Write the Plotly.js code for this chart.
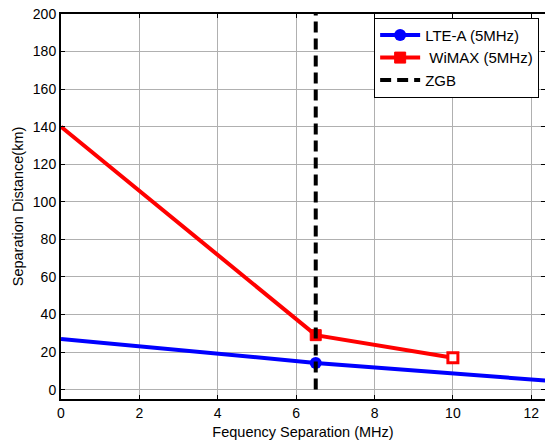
<!DOCTYPE html>
<html>
<head>
<meta charset="utf-8">
<script src="https://cdn.plot.ly/plotly-3.0.1.min.js"></script>
<style>html,body{margin:0;padding:0;background:#fff;}#chart{width:545px;height:441px;}</style>
</head>
<body>
<div id="chart"></div>
<script>
// Data
const lteX = [0, 6.5, 12.5];
const lteY = [27, 14.2, 4.6];
const lteMarkX = [6.5];
const lteMarkY = [14.2];

const wimaxX = [0, 6.5, 10];
const wimaxY = [140, 29, 17];
const wimaxFilledX = [6.5];
const wimaxFilledY = [29];
const wimaxOpenX = [10];
const wimaxOpenY = [17];

const zgbX = [6.5, 6.5];
const zgbY = [0, 200];

const xTicks = [0, 2, 4, 6, 8, 10, 12];
const yTicks = [0, 20, 40, 60, 80, 100, 120, 140, 160, 180, 200];

const FONT = "Liberation Sans, Arial, sans-serif";

const traces = [
  {x: lteX, y: lteY, mode: 'lines', line: {color: '#0000ff', width: 4}, showlegend: false, hoverinfo: 'skip'},
  {x: wimaxX, y: wimaxY, mode: 'lines', line: {color: '#ff0000', width: 4}, showlegend: false, hoverinfo: 'skip'},
  {x: wimaxOpenX, y: wimaxOpenY, mode: 'markers', showlegend: false,
   marker: {symbol: 'square', size: 10, color: '#ffffff', line: {color: '#ff0000', width: 3}}},
  {x: lteMarkX, y: lteMarkY, mode: 'lines+markers', name: 'LTE-A (5MHz)',
   line: {color: '#0000ff', width: 4},
   marker: {symbol: 'circle', size: 12, color: '#0000ff'}},
  {x: wimaxFilledX, y: wimaxFilledY, mode: 'lines+markers', name: ' WiMAX (5MHz)',
   line: {color: '#ff0000', width: 4},
   marker: {symbol: 'square', size: 11, color: '#ff0000', line: {color: '#ff0000', width: 1}}},
  {x: zgbX, y: zgbY, mode: 'lines', name: 'ZGB',
   line: {color: '#000000', width: 4, dash: '11px,6px'}}
];

const layout = {
  width: 545, height: 441,
  margin: {l: 61, r: 0, t: 14, b: 42},
  paper_bgcolor: '#ffffff', plot_bgcolor: '#ffffff',
  font: {family: FONT, size: 14, color: '#000000'},
  showlegend: true,
  legend: {
    x: 0.647, y: 0.99, xanchor: 'left', yanchor: 'top',
    bgcolor: '#ffffff', bordercolor: '#000000', borderwidth: 1,
    font: {family: FONT, size: 15, color: '#000000'},
    traceorder: 'normal', itemwidth: 40
  },
  xaxis: {
    range: [0, 12.35], tickvals: xTicks, ticktext: xTicks.map(String),
    ticks: 'inside', ticklen: 4, tickcolor: '#000', tickwidth: 1,
    showline: true, linecolor: '#000', linewidth: 2, mirror: 'ticks',
    showgrid: true, gridcolor: '#b0b0b0', gridwidth: 1, zeroline: false,
    tickfont: {family: FONT, size: 14, color: '#000'},
    title: {text: 'Fequency Separation (MHz)', font: {family: FONT, size: 14.5, color: '#000'}, standoff: 7}
  },
  yaxis: {
    range: [-5, 200], tickvals: yTicks, ticktext: yTicks.map(String),
    ticks: 'inside', ticklen: 4, tickcolor: '#000', tickwidth: 1,
    showline: true, linecolor: '#000', linewidth: 2, mirror: 'ticks',
    showgrid: true, gridcolor: '#b0b0b0', gridwidth: 1, zeroline: false,
    tickfont: {family: FONT, size: 14, color: '#000'},
    title: {text: 'Separation Distance(km)', font: {family: FONT, size: 14.5, color: '#000'}, standoff: 6}
  }
};

Plotly.newPlot('chart', traces, layout, {displayModeBar: false, staticPlot: true});
</script>
</body>
</html>
